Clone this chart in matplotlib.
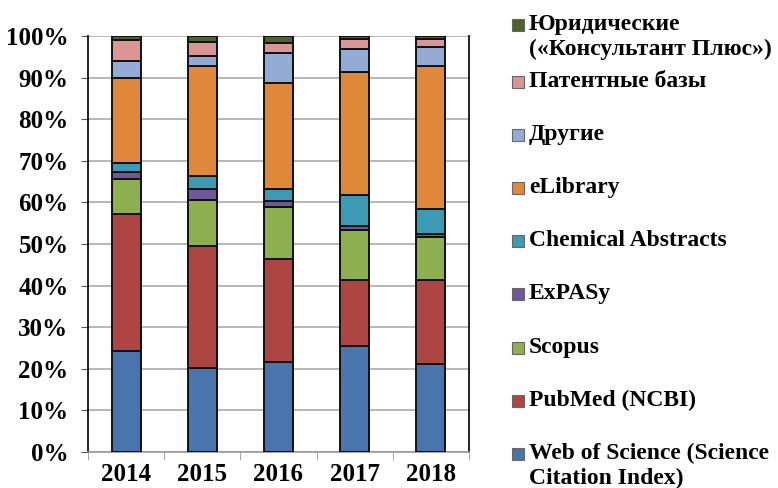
import matplotlib
matplotlib.use("Agg")
import matplotlib.pyplot as plt
from matplotlib.patches import Rectangle
from matplotlib.ticker import FuncFormatter
import numpy as np

plt.rcParams['font.family'] = ['Liberation Serif', 'DejaVu Serif']
plt.rcParams['font.weight'] = 'bold'

years = ['2014', '2015', '2016', '2017', '2018']

# shares, % (bottom to top)
wos = [24.3, 20.1, 21.7, 25.6, 21.2]
pubmed = [32.8, 29.3, 24.7, 15.7, 20.1]
scopus = [8.5, 11.1, 12.4, 12.0, 10.3]
expasy = [1.7, 2.7, 1.5, 1.1, 0.8]
chem = [2.1, 3.2, 3.0, 7.3, 6.0]
elibrary = [20.6, 26.4, 25.5, 29.7, 34.4]
drugie = [4.1, 2.4, 7.0, 5.4, 4.6]
patent = [4.9, 3.3, 2.4, 2.5, 1.9]
jurid = [1.0, 1.5, 1.8, 0.7, 0.7]

series = [wos, pubmed, scopus, expasy, chem, elibrary, drugie, patent, jurid]
labels = ['Web of Science (Science\nCitation Index)', 'PubMed (NCBI)', 'Scopus',
          'ExPASy', 'Chemical Abstracts', 'eLibrary', 'Другие',
          'Патентные базы', 'Юридические\n(«Консультант Плюс»)']
colors = ['#4A74AD', '#AD4543', '#8EAF4F', '#71589A', '#3C9AB2',
          '#E0883A', '#94ABD6', '#D99694', '#4F6228']

fig = plt.figure(figsize=(7.78, 4.88), dpi=100)
W, H = 778, 488
ax = fig.add_axes([88 / W, (H - 452) / H, (469 - 88) / W, (452 - 36) / H])

x = np.arange(len(years))
bottom = np.zeros(len(years))
for vals, c in zip(series, colors):
    ax.bar(x, vals, 0.38, bottom=bottom, color=c, edgecolor='#111111',
           linewidth=1.4, zorder=3)
    bottom += np.array(vals)

ax.set_xlim(-0.5, 4.5)
ax.set_ylim(0, 100)
ax.set_yticks(np.arange(0, 101, 10))
ax.yaxis.set_major_formatter(FuncFormatter(lambda v, p: f'{int(v)}%'))
ax.set_xticks(x)
ax.set_xticklabels(years)
ax.set_xticks(np.arange(-0.5, 4.6, 1), minor=True)
ax.tick_params(axis='x', which='major', length=0, labelsize=18, pad=8)
ax.tick_params(axis='x', which='minor', length=6, color='#999999')
ax.tick_params(axis='y', length=5, color='#555555', labelsize=18, pad=9)
ax.grid(axis='y', color='#AAAAAA', linewidth=1.2, zorder=0)
ax.spines['top'].set_visible(False)
ax.spines['left'].set_color('#111111')
ax.spines['left'].set_linewidth(1.3)
ax.spines['right'].set_color('#111111')
ax.spines['right'].set_linewidth(1.3)
ax.spines['bottom'].set_color('#999999')
ax.spines['bottom'].set_linewidth(1.2)

# legend, top to bottom
ys = [22] + [79 + 53.1 * i for i in range(8)]
for yy, lab, c in zip(ys, labels[::-1], colors[::-1]):
    fig.patches.append(Rectangle((512 / W, 1 - (yy + 9) / H), 12 / W, 12 / H,
                                 transform=fig.transFigure, facecolor=c,
                                 edgecolor='#666666', linewidth=0.8))
    fig.text(529 / W, 1 - (yy - 8) / H, lab, fontsize=17, fontweight='bold',
             va='top', ha='left', linespacing=1.22)

fig.savefig('out.png', dpi=100)
